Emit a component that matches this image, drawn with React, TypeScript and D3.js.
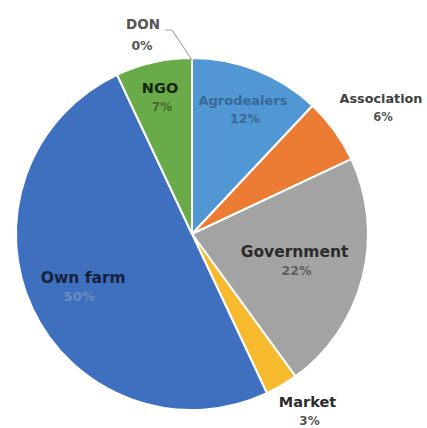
import React from "react";
import * as d3 from "d3";

const categories = ["Agrodealers", "Association", "Government", "Market", "Own farm", "NGO", "DON"];
const values = [12, 6, 22, 3, 50, 7, 0];
const percentLabels = ["12%", "6%", "22%", "3%", "50%", "7%", "0%"];

const colors = ["#5097d3", "#ec7b34", "#a3a3a3", "#f7b92e", "#3e70bf", "#69ab48", "#888888"];
// label placement: radius (px from center), angle offset (deg), font sizes, colors
const labelRadius = [135, 228, 106, 211, 121, 141, 0];
const labelAngleOffset = [0.6, 2, 0.2, -2.6, -0.8, -0.5, 0];
const nameSize = [13, 12.8, 15.5, 14.5, 15.5, 14.5, 13.5];
const pctSize = [12.5, 11.5, 12.5, 12, 13, 12, 12.5];
const nameColor = ["#3a6895", "#404040", "#2b2b2b", "#2b2b2b", "#16223a", "#15260f", "#555555"];
const pctColor = ["#3a6895", "#555555", "#5e5e5e", "#555555", "#6a8cbd", "#3f6a2c", "#555555"];

export default function App() {
  const W = 427, H = 428;
  const cx = 192, cy = 234, r = 176;
  const pie = d3.pie<number>().sort(null).value((d) => d)(values);
  const arc = d3.arc<d3.PieArcDatum<number>>().innerRadius(0).outerRadius(r);

  return (
    <svg width={W} height={H} style={{ position: "absolute", left: 0, top: 0, background: "#fff" }}
      fontFamily="'DejaVu Sans', Verdana, sans-serif">
      <g transform={`translate(${cx},${cy})`}>
        {pie.map((p, i) => (
          <path key={i} d={arc(p) || ""} fill={colors[i]} stroke="#fff" strokeWidth={2} strokeLinejoin="round" />
        ))}
        {pie.map((p, i) => {
          if (categories[i] === "DON") {
            const a = p.startAngle;
            const ex = Math.sin(a) * (r - 2), ey = -Math.cos(a) * (r - 2);
            return (
              <g key={"l" + i}>
                <polyline points={`${ex},${ey} ${-20},${-204} ${-27},${-204}`} fill="none" stroke="#a6a6a6" strokeWidth={1.2} />
                <text x={-49} y={-205} textAnchor="middle" fontWeight="bold" fontSize={nameSize[i]} fill={nameColor[i]}>{categories[i]}</text>
                <text x={-50} y={-184} textAnchor="middle" fontWeight="bold" fontSize={pctSize[i]} fill={pctColor[i]}>{percentLabels[i]}</text>
              </g>
            );
          }
          const mid = (p.startAngle + p.endAngle) / 2 + (labelAngleOffset[i] * Math.PI) / 180;
          const lx = Math.sin(mid) * labelRadius[i];
          const ly = -Math.cos(mid) * labelRadius[i];
          return (
            <g key={"l" + i}>
              <text x={lx} y={ly - 4} textAnchor="middle" fontWeight="bold" fontSize={nameSize[i]} fill={nameColor[i]}>{categories[i]}</text>
              <text x={lx + (categories[i] === "Own farm" ? -4 : 2)} y={ly + 14} textAnchor="middle" fontWeight="bold" fontSize={pctSize[i]} fill={pctColor[i]}>{percentLabels[i]}</text>
            </g>
          );
        })}
      </g>
    </svg>
  );
}
